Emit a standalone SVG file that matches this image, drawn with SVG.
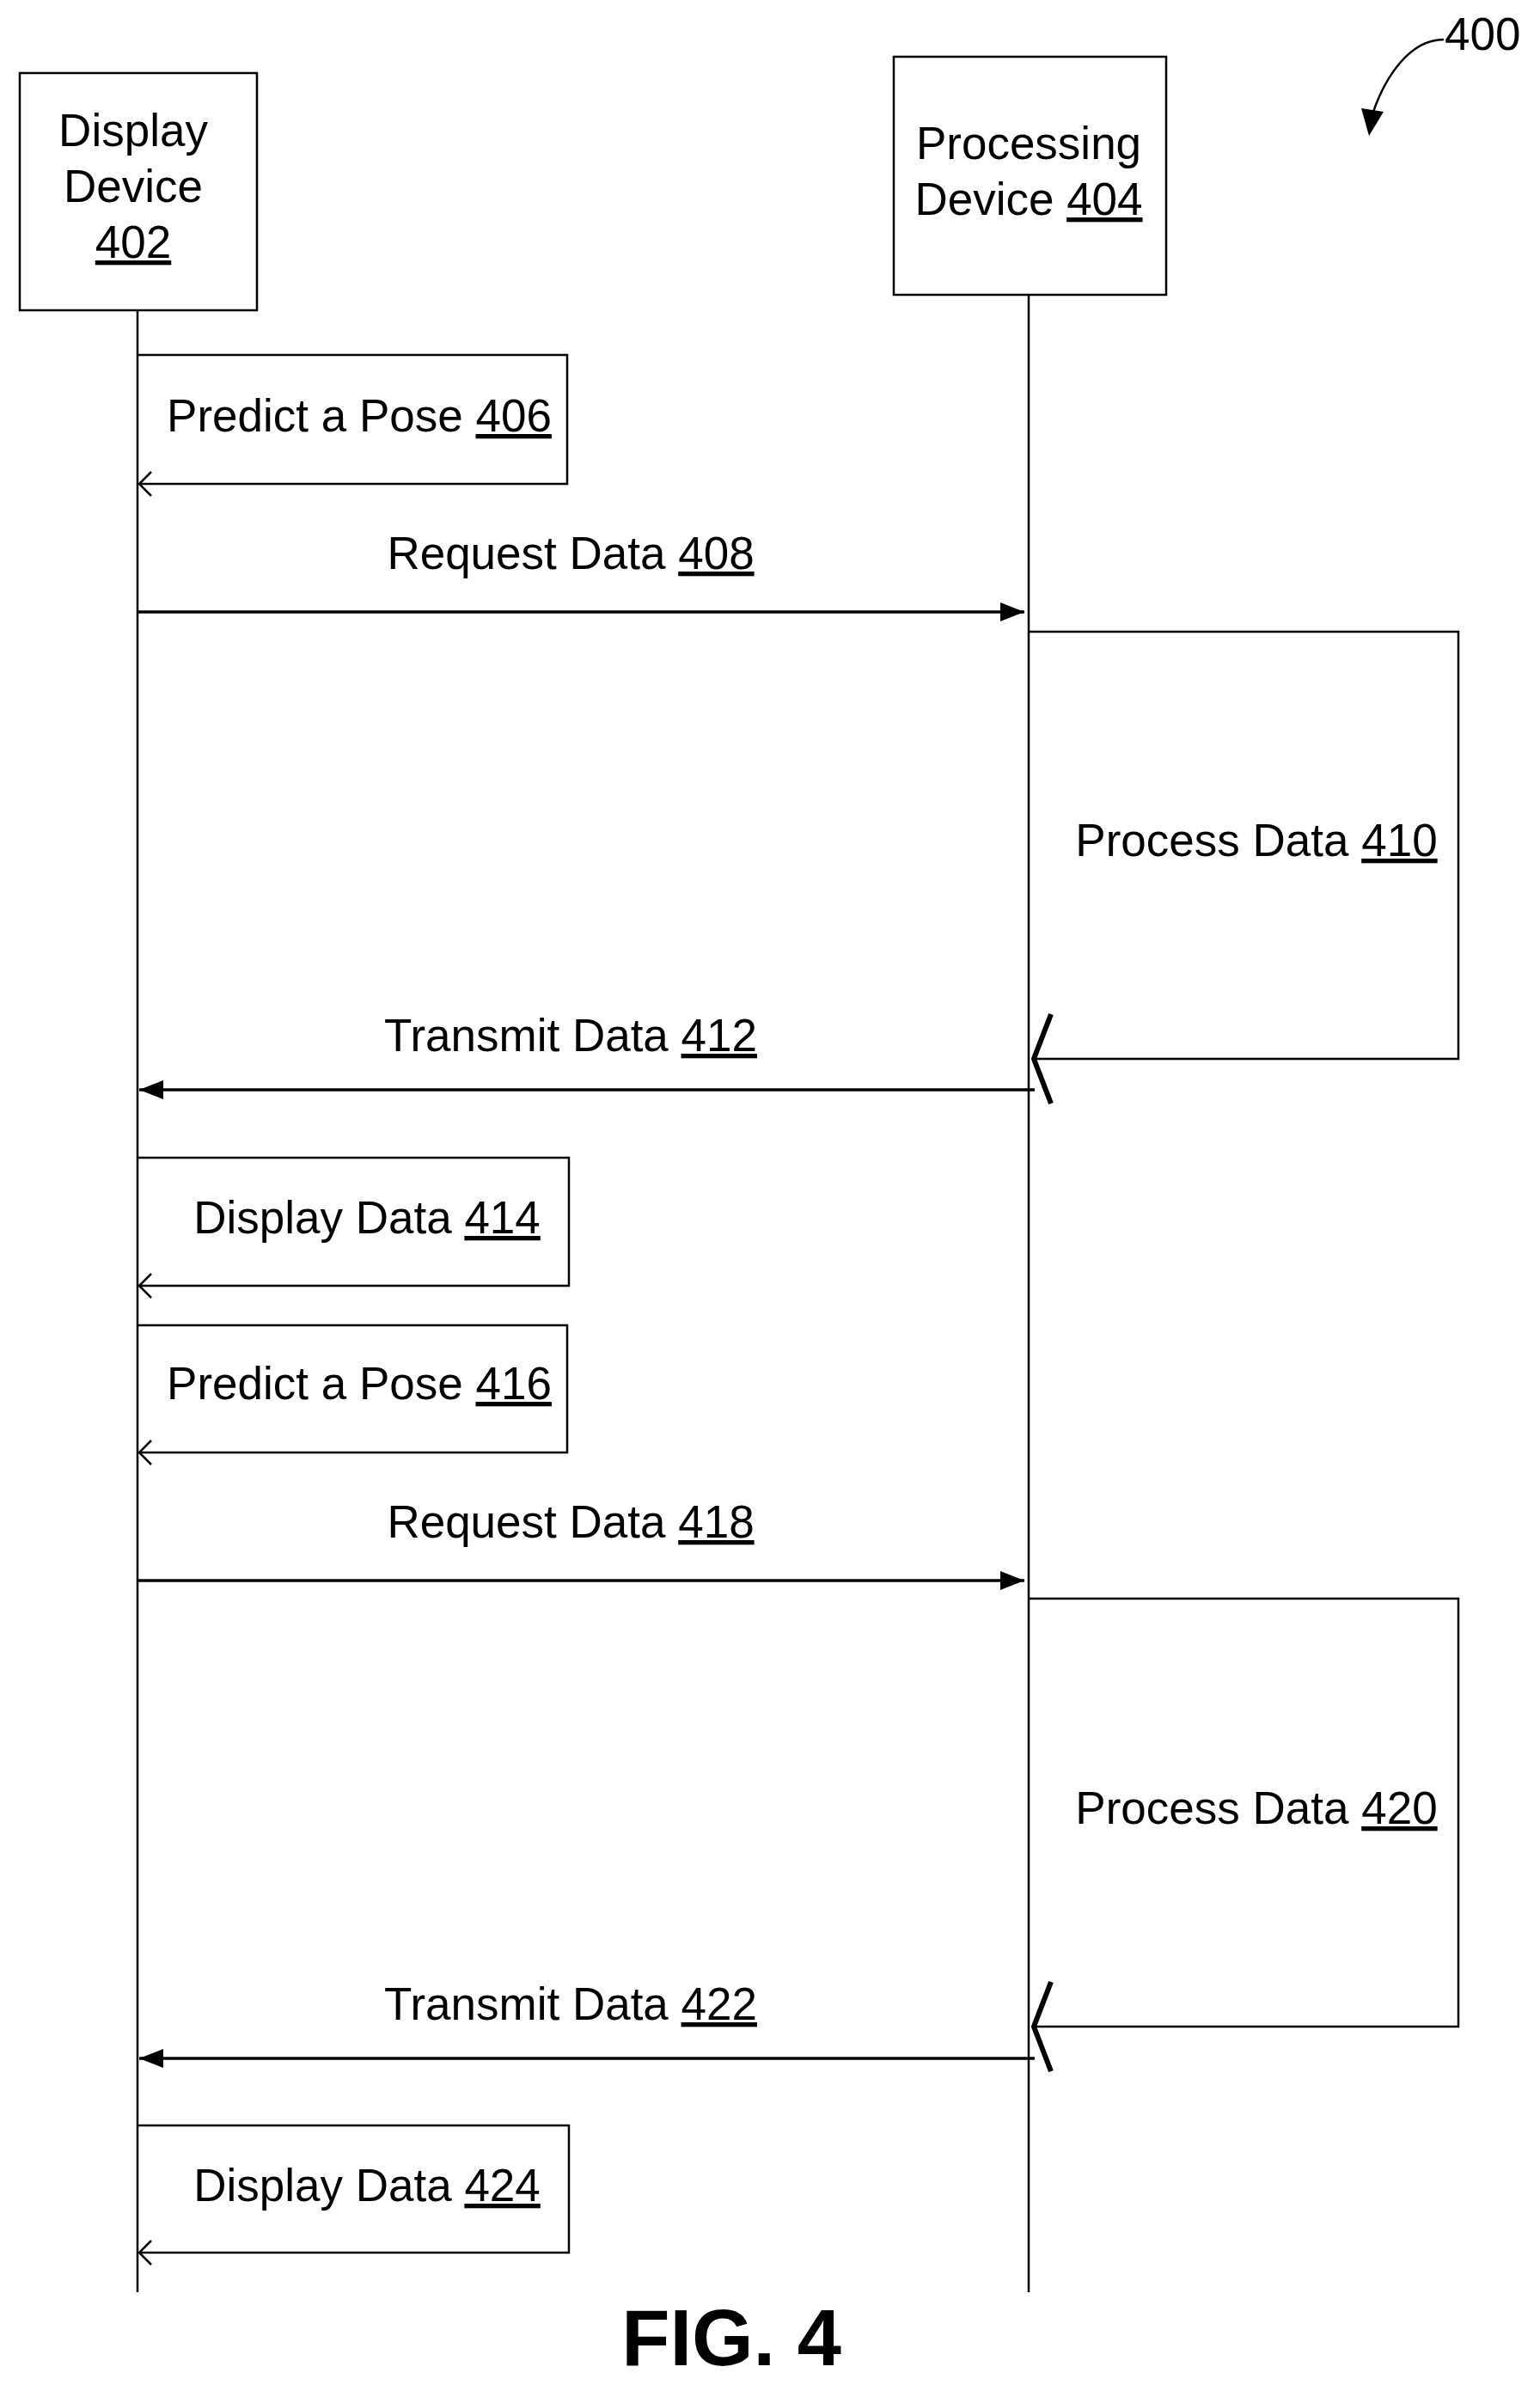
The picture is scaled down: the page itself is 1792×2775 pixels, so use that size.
<svg xmlns="http://www.w3.org/2000/svg" width="1792" height="2775" viewBox="0 0 1792 2775">
<style>
text{font-family:"Liberation Sans",Arial,sans-serif;font-size:53px;fill:#000}
.u{text-decoration:underline}
.b{fill:none;stroke:#000;stroke-width:2.5}
.l{fill:none;stroke:#000;stroke-width:2.5}
.m{fill:none;stroke:#000;stroke-width:3.5}
.oa{fill:none;stroke:#000;stroke-width:2.5}
.ba{fill:none;stroke:#000;stroke-width:6}
</style>
<defs>
<marker id="fa" markerWidth="10" markerHeight="10" refX="9" refY="5" orient="auto" markerUnits="userSpaceOnUse" viewBox="0 0 10 10"><path d="M0,0 L10,5 L0,10 z"/></marker>
<marker id="fb" markerWidth="30" markerHeight="30" refX="28" refY="15" orient="auto" markerUnits="userSpaceOnUse" viewBox="0 0 30 30"><path d="M0,4 L28,15 L0,26 z"/></marker>
</defs>
<g id="display">
<rect class="b" x="23" y="85" width="276" height="276" fill="#fff"/>
<text x="155" y="170" text-anchor="middle">Display</text>
<text x="155" y="235" text-anchor="middle">Device</text>
<text x="155" y="300" text-anchor="middle" class="u">402</text>
</g>
<g id="processing">
<rect class="b" x="1040" y="66" width="317" height="277" fill="#fff"/>
<text x="1197" y="185" text-anchor="middle">Processing</text>
<text x="1197" y="250" text-anchor="middle">Device <tspan class="u">404</tspan></text>
</g>
<g id="ref400">
<text x="1681" y="58">400</text>
<path class="l" d="M1680,46 C1640,46 1612,90 1598,130"/>
<path d="M1584,126 L1593,158 L1610,130 z"/>
</g>
<g id="connectors">
<line class="l" x1="160" y1="361" x2="160" y2="2667"/>
<line class="l" x1="1197" y1="343" x2="1197" y2="2667"/>
<!-- 406 -->
<path class="l" d="M160,413 H660 V563 H162"/>
<path class="oa" d="M176,549 L162,563 L176,577"/>
<!-- 408 -->
<line class="m" x1="160" y1="712" x2="1192" y2="712" marker-end="url(#fb)"/>
<!-- 410 -->
<path class="l" d="M1197,735 H1697 V1232 H1201"/>
<path class="ba" d="M1223,1180 L1203,1232 L1223,1284"/>
<!-- 412 -->
<line class="m" x1="1204" y1="1268" x2="162" y2="1268" marker-end="url(#fb)"/>
<!-- 414 -->
<path class="l" d="M160,1347 H662 V1496 H162"/>
<path class="oa" d="M176,1482 L162,1496 L176,1510"/>
<!-- 416 -->
<path class="l" d="M160,1542 H660 V1690 H162"/>
<path class="oa" d="M176,1676 L162,1690 L176,1704"/>
<!-- 418 -->
<line class="m" x1="160" y1="1839" x2="1192" y2="1839" marker-end="url(#fb)"/>
<!-- 420 -->
<path class="l" d="M1197,1860 H1697 V2358 H1201"/>
<path class="ba" d="M1223,2306 L1203,2358 L1223,2410"/>
<!-- 422 -->
<line class="m" x1="1204" y1="2395" x2="162" y2="2395" marker-end="url(#fb)"/>
<!-- 424 -->
<path class="l" d="M160,2473 H662 V2621 H162"/>
<path class="oa" d="M176,2607 L162,2621 L176,2635"/>
</g>
<g id="labels">
<text x="418" y="502" text-anchor="middle">Predict a Pose <tspan class="u">406</tspan></text>
<text x="664" y="662" text-anchor="middle">Request Data <tspan class="u">408</tspan></text>
<text x="1462" y="996" text-anchor="middle">Process Data <tspan class="u">410</tspan></text>
<text x="664" y="1223" text-anchor="middle">Transmit Data <tspan class="u">412</tspan></text>
<text x="427" y="1435" text-anchor="middle">Display Data <tspan class="u">414</tspan></text>
<text x="418" y="1628" text-anchor="middle">Predict a Pose <tspan class="u">416</tspan></text>
<text x="664" y="1789" text-anchor="middle">Request Data <tspan class="u">418</tspan></text>
<text x="1462" y="2122" text-anchor="middle">Process Data <tspan class="u">420</tspan></text>
<text x="664" y="2350" text-anchor="middle">Transmit Data <tspan class="u">422</tspan></text>
<text x="427" y="2561" text-anchor="middle">Display Data <tspan class="u">424</tspan></text>
<text x="851" y="2752" text-anchor="middle" style="font-size:92px;font-weight:bold">FIG. 4</text>
</g>
</svg>
